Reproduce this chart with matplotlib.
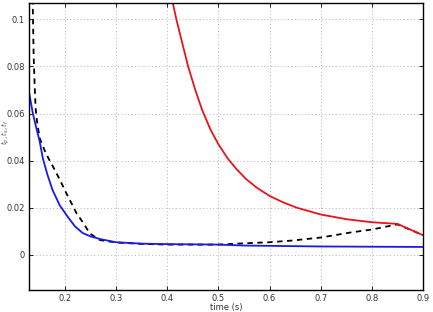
import matplotlib
matplotlib.use('Agg')
import matplotlib.pyplot as plt

# donnees
blue_x = [0.13, 0.1376, 0.143, 0.151, 0.157, 0.166, 0.176, 0.19, 0.206, 0.22, 0.235, 0.25, 0.27, 0.3,
          0.35, 0.4, 0.5, 0.55, 0.7, 0.9]
blue_y = [0.069, 0.060, 0.055, 0.048, 0.041, 0.034, 0.0275, 0.021, 0.016, 0.012, 0.0092, 0.0078, 0.0066,
          0.0053, 0.0047, 0.0045, 0.0043, 0.0039, 0.0035, 0.0033]

dash_x = [0.137, 0.139, 0.141, 0.143, 0.146, 0.151, 0.163, 0.177, 0.19, 0.203, 0.223, 0.236, 0.249,
          0.269, 0.3, 0.35, 0.4, 0.5, 0.545, 0.6, 0.643, 0.7, 0.76, 0.8, 0.85, 0.9]
dash_y = [0.11, 0.085, 0.072, 0.062, 0.056, 0.0495, 0.043, 0.0374, 0.032, 0.0261, 0.0176, 0.0135, 0.009,
          0.0062, 0.0052, 0.0046, 0.0043, 0.0043, 0.0048, 0.0053, 0.0060, 0.0073, 0.0095, 0.0107, 0.0129, 0.0083]

red_x = [0.408, 0.418, 0.43, 0.441, 0.455, 0.468, 0.485, 0.5, 0.518, 0.535, 0.554, 0.575, 0.6, 0.625,
         0.653, 0.7, 0.75, 0.8, 0.85, 0.9]
red_y = [0.110, 0.100, 0.0895, 0.080, 0.070, 0.0617, 0.053, 0.047, 0.041, 0.0365, 0.0322, 0.0285, 0.025,
         0.0224, 0.020, 0.0171, 0.0151, 0.0138, 0.0131, 0.0083]

xticks = [0.2, 0.3, 0.4, 0.5, 0.6, 0.7, 0.8, 0.9]
yticks = [0, 0.02, 0.04, 0.06, 0.08, 0.1]
yticklabels = ['0', '0.02', '0.04', '0.06', '0.08', '0.1']

fig = plt.figure(figsize=(4.33, 3.12), dpi=100)
ax = fig.add_axes([0.067, 0.0705, 0.910, 0.920])

ax.plot(dash_x, dash_y, color='black', linestyle='--', linewidth=1.3, dashes=(3, 2.5))
ax.plot(red_x, red_y, color='#e8141c', linewidth=1.3)
ax.plot(blue_x, blue_y, color='#1a1ae6', linewidth=1.3)

ax.set_xlim(0.13, 0.9)
ax.set_ylim(-0.015, 0.107)
ax.set_xticks(xticks)
ax.set_xticklabels([str(t) for t in xticks])
ax.set_yticks(yticks)
ax.set_yticklabels(yticklabels)
ax.tick_params(direction='in', top=True, right=True, labelsize=6, length=3, width=0.6,
               colors='black', labelcolor='#333333', pad=3)
ax.grid(True, linestyle=(0, (1, 2.5)), color='#b0b0b0', linewidth=0.7)
for s in ax.spines.values():
    s.set_linewidth(1.0)

ax.set_xlabel('time (s)', fontsize=6, color='#333333')
ax.xaxis.set_label_coords(0.5, -0.045)
ax.set_ylabel(r'$t_p, t_s, t_f$', fontsize=5, color='#555555')
ax.yaxis.set_label_coords(-0.044, 0.55)

plt.savefig('out.png', dpi=100)
